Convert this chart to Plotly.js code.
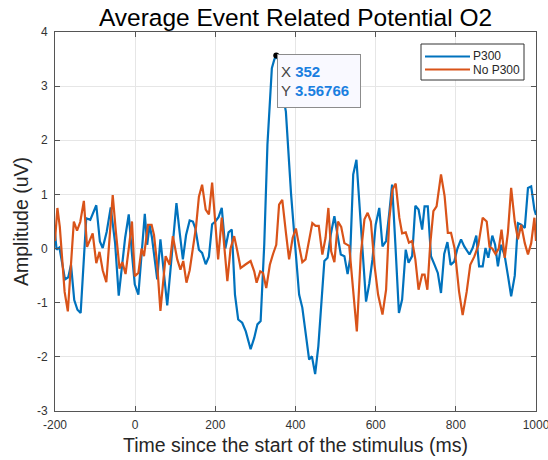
<!DOCTYPE html>
<html>
<head>
<meta charset="utf-8">
<script src="https://cdn.plot.ly/plotly-3.0.1.min.js"></script>
<style>html,body{margin:0;padding:0;background:#fff;}#chart{width:548px;height:460px;}</style>
</head>
<body>
<div id="chart"></div>
<script>
const p300X = [-200,-196,-189,-175,-167,-160,-152,-144,-136,-122,-112,-97,-88,-81,-71,-61,-50,-41,-25,-16,-8,-1,8,24,30,36,42,55,63,80,88,95,103,111,119,127,136,144,150,159,167,176,184,192,200,208,216,225,233,241,249,257,267,276,288,297,305,313,322,330,341,347,352,359,367,376,383,389,399,409,417,426,434,441,449,457,466,472,480,488,497,505,513,522,530,536,544,552,559,567,576,584,592,600,609,617,626,634,641,649,658,666,675,682,691,699,707,716,722,730,738,747,755,763,771,779,787,796,804,813,821,834,842,851,858,867,874,881,891,898,905,913,922,930,938,947,955,963,972,980,988,996,1000];
const p300Y = [0.28,-0.02,0.02,-0.57,-0.53,-0.3,-0.95,-1.13,-1.19,0.56,0.53,0.8,0.13,0.01,0.31,0.76,0.1,-0.87,0.2,0.63,-0.1,-0.66,-0.85,0.64,0.07,0.44,0.2,-0.57,0.17,-1.05,-0.4,0.23,0.84,0.3,-0.2,0.25,0.52,0.5,0.38,-0.02,-0.08,-0.29,-0.15,0.45,0.5,0.58,0.75,0.0,0.3,0.35,-0.85,-1.31,-1.37,-1.53,-1.86,-1.65,-1.4,-1.34,0.07,1.92,3.33,3.49,3.56766,3.45,2.9,2.53,1.6,1.0,0.07,-0.85,-1.09,-1.6,-2.05,-1.99,-2.32,-1.8,-0.91,-0.23,-0.17,0.26,0.6,0.2,-0.11,-0.14,-0.47,-0.2,1.37,1.64,0.93,-0.05,-0.98,-0.65,-0.2,0.44,0.75,0.04,0.14,0.66,1.18,0.1,-1.19,-0.94,-0.02,-0.26,-0.14,0.79,0.72,0.35,0.78,0.78,-0.14,-0.3,-0.45,-0.82,-0.1,0.12,-0.3,-0.24,0.0,0.17,0.04,-0.11,0.01,0.24,-0.33,-0.33,0.01,-0.17,0.24,0.07,-0.33,0.07,-0.14,-0.5,-0.88,-0.5,0.47,0.44,0.38,1.12,1.15,0.72,0.62];
const noP300X = [-200,-194,-188,-176,-168,-153,-145,-137,-128,-120,-106,-97,-89,-81,-72,-64,-56,-48,-39,-32,-24,-16,-8,-1,8,16,22,32,41,47,55,63,76,86,94,105,113,120,128,136,144,152,159,167,176,184,192,199,207,216,222,230,238,247,255,263,276,288,297,303,312,319,327,336,344,352,359,367,376,384,393,401,409,417,425,434,442,450,458,467,475,482,489,497,506,514,522,534,543,553,563,572,580,588,597,606,617,626,634,642,650,659,666,675,683,691,699,707,716,722,729,736,744,752,763,772,780,788,797,808,817,827,836,846,856,867,877,884,891,899,907,914,922,930,938,947,955,963,972,980,988,996,1000];
const noP300Y = [0.14,0.75,0.4,-0.8,-1.16,0.5,0.33,0.49,0.88,0.03,0.28,-0.27,-0.06,-0.4,-0.62,0.2,0.99,0.3,-0.37,-0.25,-0.47,0.0,0.5,-0.51,-0.45,0.0,-0.14,0.44,0.44,0.25,-0.3,-1.15,-0.14,-0.3,0.23,-0.2,-0.39,-0.23,-0.63,-0.4,-0.02,0.41,0.96,1.18,0.72,0.63,1.22,0.5,-0.2,0.57,0.07,-0.6,0.0,0.23,-0.05,-0.36,-0.29,-0.23,-0.42,-0.63,-0.42,-0.45,-0.73,-0.3,-0.1,0.07,0.81,0.9,0.3,-0.2,0.2,0.37,0.05,-0.25,-0.2,0.17,0.47,0.42,0.42,-0.11,0.2,0.75,-0.05,-0.25,0.5,0.4,0.1,0.05,-0.66,-1.53,-0.1,0.54,0.66,0.5,-0.3,-0.85,-1.22,-0.76,0.54,1.09,1.2,0.57,0.28,0.3,0.11,0.14,-0.2,-0.76,-0.48,-0.48,-0.76,0.07,0.69,0.78,1.37,0.97,0.29,0.29,0.0,-0.79,-1.23,-0.8,-0.3,-0.15,0.06,0.57,0.5,0.03,0.0,-0.1,0.0,0.35,-0.17,0.3,1.12,0.5,0.17,0.44,0.1,-0.11,0.1,0.57,0.14];
const xTicks = [-200,0,200,400,600,800,1000];
const yTicks = [-3,-2,-1,0,1,2,3,4];
const seriesNames = ['P300','No P300'];
const seriesColors = ['#0072BD', '#D95319'];

// data tip at the P300 maximum
let peakIdx = 0;
for (let i = 1; i < p300Y.length; i++) if (p300Y[i] > p300Y[peakIdx]) peakIdx = i;
const tipX = [p300X[peakIdx]];
const tipY = [p300Y[peakIdx]];

const FONT = 'Liberation Sans, Arial, Helvetica, sans-serif';
const AX = '#555555';
const W = 548, H = 460, M = {l: 55, r: 12, t: 32, b: 49};
const PW = W - M.l - M.r, PH = H - M.t - M.b;
const px = v => (v - M.l) / PW;          // pixel x -> paper x
const py = v => (H - M.b - v) / PH;      // pixel y -> paper y

const traces = [
  {x: p300X, y: p300Y, type: 'scatter', mode: 'lines', name: seriesNames[0],
   line: {color: seriesColors[0], width: 2.2}},
  {x: noP300X, y: noP300Y, type: 'scatter', mode: 'lines', name: seriesNames[1],
   line: {color: seriesColors[1], width: 2.2}},
  {x: tipX, y: tipY, type: 'scatter', mode: 'markers', showlegend: false,
   marker: {color: '#000', size: 6}, hoverinfo: 'skip'}
];
const axisCommon = {
  showline: true, linecolor: AX, linewidth: 1, mirror: 'ticks',
  ticks: 'inside', ticklen: 5, tickcolor: AX, tickwidth: 1,
  showgrid: true, gridcolor: '#e6e6e6', gridwidth: 1, zeroline: false,
  ticklabeloverflow: 'allow',
  tickfont: {family: FONT, size: 12, color: '#333'}
};

// legend drawn as a MATLAB-style box
const legBox = {x0: 421, x1: 524, y0: 44, y1: 80};
const legRows = [56.5, 69.5];
const shapes = [{type: 'rect', xref: 'paper', yref: 'paper',
  x0: px(legBox.x0), x1: px(legBox.x1), y0: py(legBox.y1), y1: py(legBox.y0),
  line: {color: '#333', width: 1}, fillcolor: '#fff', layer: 'above'}];
const annotations = [];
seriesNames.forEach((n, i) => {
  shapes.push({type: 'line', xref: 'paper', yref: 'paper',
    x0: px(425), x1: px(470), y0: py(legRows[i]), y1: py(legRows[i]),
    line: {color: seriesColors[i], width: 2}, layer: 'above'});
  annotations.push({xref: 'paper', yref: 'paper', x: px(471), y: py(legRows[i]),
    xanchor: 'left', yanchor: 'middle', showarrow: false, text: n,
    font: {family: FONT, size: 12, color: '#262626'}});
});
annotations.push({
  x: tipX[0], y: tipY[0], xref: 'x', yref: 'y', showarrow: false,
  xanchor: 'left', yanchor: 'top', xshift: 1, yshift: 1,
  text: '<span style="color:#444">X </span><b style="color:#1a7fe0">' + tipX[0] + '</b><br><span style="color:#444">Y </span><b style="color:#1a7fe0">' + tipY[0] + '</b>',
  align: 'left', font: {family: FONT, size: 15, color: '#1a7fe0'},
  bgcolor: '#f9f9ff', bordercolor: '#8c8c8c', borderwidth: 1, borderpad: 3,
  width: 76, height: 46
});

const layout = {
  width: W, height: H, margin: M,
  paper_bgcolor: '#fff', plot_bgcolor: '#fff',
  title: {text: 'Average Event Related Potential O2', font: {family: FONT, size: 24.5, color: '#000'},
          x: 0.5, xref: 'paper', xanchor: 'center', y: 0.962, yanchor: 'middle'},
  xaxis: Object.assign({}, axisCommon, {range: [-200, 1000], tickvals: xTicks, ticktext: xTicks.map(String),
    ticklabelstandoff: 3,
    title: {text: 'Time since the start of the stimulus (ms)', font: {family: FONT, size: 19.5, color: '#262626'}, standoff: 6}}),
  yaxis: Object.assign({}, axisCommon, {range: [-3, 4], tickvals: yTicks, ticktext: yTicks.map(String),
    ticklabelstandoff: 4,
    title: {text: 'Amplitude (uV)', font: {family: FONT, size: 19.5, color: '#262626'}, standoff: 3}}),
  showlegend: false,
  shapes: shapes,
  annotations: annotations
};
Plotly.newPlot('chart', traces, layout, {staticPlot: true, displayModeBar: false});
</script>
</body>
</html>
